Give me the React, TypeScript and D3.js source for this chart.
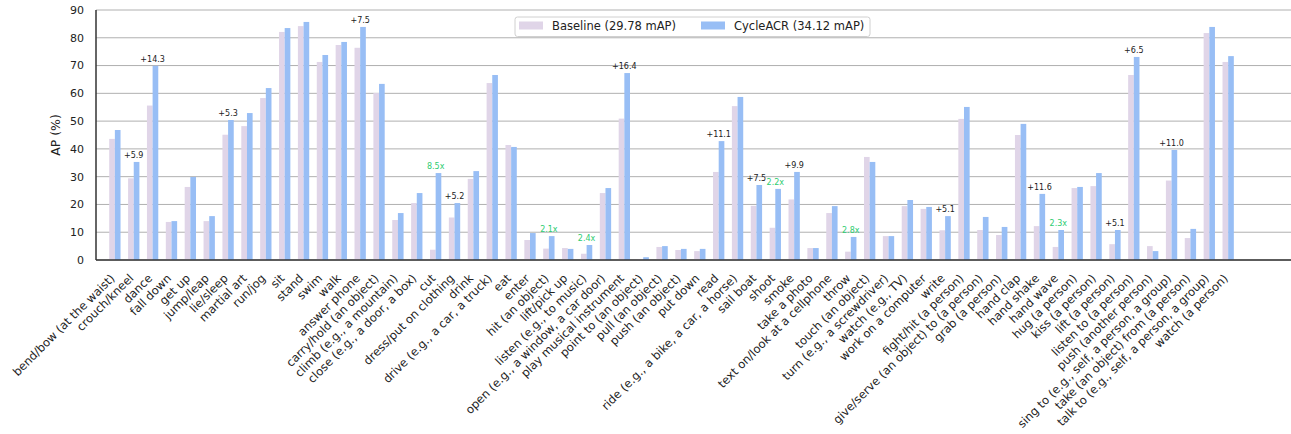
import { useEffect, useRef } from "react";
import * as d3 from "d3";

const categories = [
  "bend/bow (at the waist)", "crouch/kneel", "dance", "fall down", "get up",
  "jump/leap", "lie/sleep", "martial art", "run/jog", "sit", "stand", "swim",
  "walk", "answer phone", "carry/hold (an object)", "climb (e.g., a mountain)",
  "close (e.g., a door, a box)", "cut", "dress/put on clothing", "drink",
  "drive (e.g., a car, a truck)", "eat", "enter", "hit (an object)",
  "lift/pick up", "listen (e.g., to music)", "open (e.g., a window, a car door)",
  "play musical instrument", "point to (an object)", "pull (an object)",
  "push (an object)", "put down", "read", "ride (e.g., a bike, a car, a horse)",
  "sail boat", "shoot", "smoke", "take a photo", "text on/look at a cellphone",
  "throw", "touch (an object)", "turn (e.g., a screwdriver)", "watch (e.g., TV)",
  "work on a computer", "write", "fight/hit (a person)",
  "give/serve (an object) to (a person)", "grab (a person)", "hand clap",
  "hand shake", "hand wave", "hug (a person)", "kiss (a person)",
  "lift (a person)", "listen to (a person)", "push (another person)",
  "sing to (e.g., self, a person, a group)", "take (an object) from (a person)",
  "talk to (e.g., self, a person, a group)", "watch (a person)",
];

const baseline = [
  43.6, 29.4, 55.6, 13.7, 26.3, 14.0, 45.1, 48.2, 58.3, 82.1, 84.2, 71.3,
  77.4, 76.4, 60.1, 14.4, 20.5, 3.7, 15.3, 29.2, 63.7, 41.4, 7.2, 4.1,
  4.3, 2.25, 24.1, 50.9, 0.3, 4.7, 3.6, 3.2, 31.7, 55.4, 19.5, 11.6,
  21.8, 4.3, 16.9, 3.0, 37.1, 8.6, 19.4, 18.4, 10.7, 50.8, 10.8, 9.0,
  45.0, 12.2, 4.7, 25.9, 26.6, 5.7, 66.6, 5.0, 28.6, 7.9, 81.7, 71.3,
];

const cycleacr = [
  46.8, 35.3, 69.9, 14.0, 29.9, 15.8, 50.4, 52.9, 61.9, 83.5, 85.7, 73.8,
  78.5, 83.9, 63.4, 16.9, 24.1, 31.3, 20.5, 32.0, 66.6, 40.7, 9.7, 8.6,
  4.0, 5.4, 25.9, 67.3, 1.0, 5.0, 4.0, 4.0, 42.8, 58.7, 27.0, 25.6,
  31.7, 4.3, 19.4, 8.3, 35.3, 8.6, 21.6, 19.1, 15.8, 55.1, 15.5, 11.9,
  49.0, 23.8, 10.8, 26.3, 31.3, 10.8, 73.1, 3.2, 39.6, 11.2, 83.9, 73.4,
];

// [category index, label]; labels ending in "x" are relative gains
const annotations: [number, string][] = [
  [1, "+5.9"], [2, "+14.3"], [6, "+5.3"], [13, "+7.5"], [17, "8.5x"],
  [18, "+5.2"], [23, "2.1x"], [25, "2.4x"], [27, "+16.4"], [32, "+11.1"],
  [34, "+7.5"], [35, "2.2x"], [36, "+9.9"], [39, "2.8x"], [44, "+5.1"],
  [49, "+11.6"], [50, "2.3x"], [53, "+5.1"], [54, "+6.5"], [56, "+11.0"],
];

const yTicks = [0, 10, 20, 30, 40, 50, 60, 70, 80, 90];
const seriesNames = ["Baseline (29.78 mAP)", "CycleACR (34.12 mAP)"];

const W = 1291;
const H = 434;
const FONT = "DejaVu Sans, sans-serif";
const C_BASE = "#e0d5e8";
const C_CYC = "#98bef5";

export default function App() {
  const ref = useRef<SVGSVGElement>(null);

  useEffect(() => {
    const svg = d3.select(ref.current);
    svg.selectAll("*").remove();

    const x = d3.scaleLinear().domain([-1, 62.33]).range([96, W]);
    const y = d3.scaleLinear().domain([0, 90]).range([260, 10]);
    const bw = 0.3;

    // grid
    svg.append("g")
      .selectAll("line")
      .data(yTicks)
      .join("line")
      .attr("x1", 96)
      .attr("x2", W)
      .attr("y1", (d) => y(d))
      .attr("y2", (d) => y(d))
      .attr("stroke", "#b0b0b0")
      .attr("stroke-width", 1);

    const bars = svg.append("g");
    bars.selectAll("rect.base")
      .data(baseline)
      .join("rect")
      .attr("class", "base")
      .attr("x", (_, i) => x(i - bw))
      .attr("width", x(bw) - x(0))
      .attr("y", (d) => y(d))
      .attr("height", (d) => y(0) - y(d))
      .attr("fill", C_BASE);
    bars.selectAll("rect.cyc")
      .data(cycleacr)
      .join("rect")
      .attr("class", "cyc")
      .attr("x", (_, i) => x(i))
      .attr("width", x(bw) - x(0))
      .attr("y", (d) => y(d))
      .attr("height", (d) => y(0) - y(d))
      .attr("fill", C_CYC);

    // spines
    svg.append("line")
      .attr("x1", 96).attr("x2", 96).attr("y1", y(90)).attr("y2", y(0))
      .attr("stroke", "#333").attr("stroke-width", 1.5);
    svg.append("line")
      .attr("x1", 96).attr("x2", W).attr("y1", y(0)).attr("y2", y(0))
      .attr("stroke", "#333").attr("stroke-width", 1.5);

    // y ticks
    svg.append("g")
      .selectAll("text")
      .data(yTicks)
      .join("text")
      .attr("x", 84)
      .attr("y", (d) => y(d))
      .attr("dy", "0.35em")
      .attr("text-anchor", "end")
      .attr("font-family", FONT)
      .attr("font-size", 11)
      .attr("fill", "#222")
      .text((d) => d);

    svg.append("text")
      .attr("transform", `translate(60,${(y(0) + y(90)) / 2}) rotate(-90)`)
      .attr("text-anchor", "middle")
      .attr("font-family", FONT)
      .attr("font-size", 12.5)
      .attr("fill", "#222")
      .text("AP (%)");

    // x labels
    svg.append("g")
      .selectAll("text")
      .data(categories)
      .join("text")
      .attr("transform", (_, i) => `translate(${x(i) + 0.5},279) rotate(-45)`)
      .attr("text-anchor", "end")
      .attr("font-family", FONT)
      .attr("font-size", 11.6)
      .attr("fill", "#222")
      .text((d) => d);

    // annotations
    svg.append("g")
      .selectAll("text")
      .data(annotations)
      .join("text")
      .attr("x", (d) => x(d[0]))
      .attr("y", (d) => y(cycleacr[d[0]]) - 4)
      .attr("text-anchor", "middle")
      .attr("font-family", FONT)
      .attr("font-size", 8)
      .attr("fill", (d) => (d[1].endsWith("x") ? "#2ecc71" : "#222"))
      .text((d) => d[1]);

    // legend
    const lg = svg.append("g").attr("transform", "translate(515,17)");
    lg.append("rect")
      .attr("width", 355)
      .attr("height", 19.5)
      .attr("rx", 2.5)
      .attr("fill", "white")
      .attr("fill-opacity", 0.85)
      .attr("stroke", "#d0d0d0");
    const items = lg.selectAll("g.item")
      .data(seriesNames)
      .join("g")
      .attr("class", "item")
      .attr("transform", (_, i) => `translate(${4 + i * 182},0)`);
    items.append("rect")
      .attr("y", 4.5)
      .attr("width", 24)
      .attr("height", 8)
      .attr("fill", (_, i) => (i === 0 ? C_BASE : C_CYC));
    items.append("text")
      .attr("x", 33)
      .attr("y", 9)
      .attr("dy", "0.35em")
      .attr("font-family", FONT)
      .attr("font-size", 11.5)
      .attr("fill", "#222")
      .text((d) => d);
  }, []);

  return (
    <svg
      ref={ref}
      width={W}
      height={H}
      style={{ position: "absolute", left: 0, top: 0, background: "white" }}
    />
  );
}
